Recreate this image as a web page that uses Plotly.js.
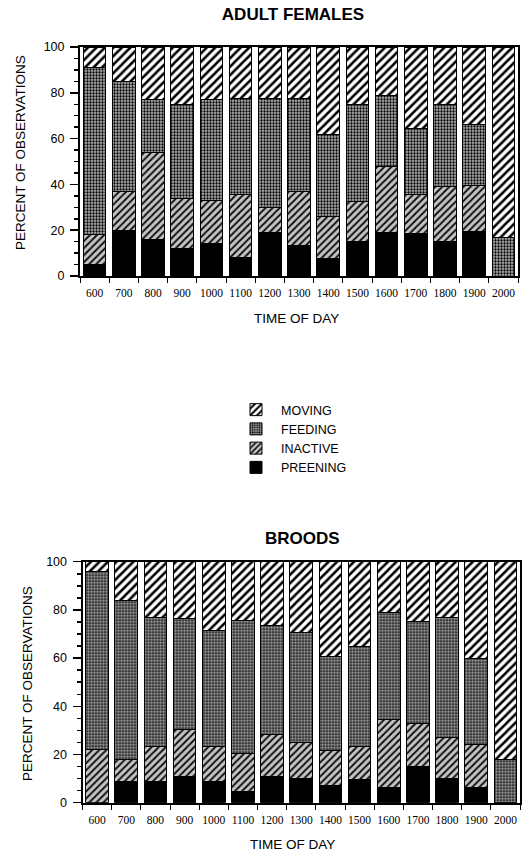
<!DOCTYPE html>
<html>
<head>
<meta charset="utf-8">
<script src="https://cdn.plot.ly/plotly-3.0.1.min.js"></script>
<style>
  html, body { margin: 0; padding: 0; background: #fff; }
  #chart { width: 522px; height: 854px; }
</style>
</head>
<body>
<div id="chart"></div>
<script>
// ---- data ----
const times = ['600','700','800','900','1000','1100','1200','1300','1400','1500','1600','1700','1800','1900','2000'];
const seriesNames = ['PREENING','INACTIVE','FEEDING','MOVING'];

// Adult females (% of observations)
const afPreening = [5, 20, 16, 12, 14, 8, 19, 13.5, 7.5, 15, 19, 18.5, 15, 19.5, 0];
const afInactive = [13, 17, 38, 22, 19, 27.5, 11, 23.5, 18.5, 17.5, 29, 17, 24, 20, 0];
const afFeeding  = [73, 48, 23, 41, 44, 42, 47.5, 40.5, 36, 42.5, 31, 29, 36, 26.5, 17];
const afMoving   = [9, 15, 23, 25, 23, 22.5, 22.5, 22.5, 38, 25, 21, 35.5, 25, 34, 83];

// Broods (% of observations)
const brPreening = [0, 9, 9, 11, 9, 4.5, 11, 10, 7, 9.5, 6.5, 15, 10, 6.5, 0];
const brInactive = [22, 9, 14.5, 19.5, 14.5, 16, 17.5, 15, 14.5, 14, 28, 18, 17, 17.5, 0];
const brFeeding  = [74, 66, 53.5, 46, 48, 55, 45, 45.5, 39, 41.5, 44.5, 42, 50, 36, 18];
const brMoving   = [4, 16, 23, 23.5, 28.5, 24.5, 26.5, 29.5, 39.5, 35, 21, 25, 23, 40, 82];

// ---- styles ----
const W = 522, H = 854;
const styles = {
  PREENING: { color: '#000000' },
  INACTIVE: { color: '#bbbbbb', pattern: { shape: '/', fgcolor: '#111111', bgcolor: '#c4c4c4', size: 5, solidity: 0.4 } },
  FEEDING:  { color: '#777777', pattern: { shape: '.', fgcolor: '#000000', bgcolor: '#b0b0b0', size: 3, solidity: 0.45 } },
  MOVING:   { color: '#ffffff', pattern: { shape: '/', fgcolor: '#000000', bgcolor: '#ffffff', size: 6, solidity: 0.42 } }
};

function mk(name, y, xa, ya, showlegend) {
  const s = styles[name];
  const marker = { color: s.color, line: { color: '#000', width: 1 } };
  if (s.pattern) marker.pattern = Object.assign({ fillmode: 'replace' }, s.pattern);
  return { type: 'bar', name: name, x: times, y: y, xaxis: xa, yaxis: ya,
           marker: marker, showlegend: showlegend, hoverinfo: 'skip' };
}

const data = [
  mk('PREENING', afPreening, 'x', 'y', true),
  mk('INACTIVE', afInactive, 'x', 'y', true),
  mk('FEEDING', afFeeding, 'x', 'y', true),
  mk('MOVING', afMoving, 'x', 'y', true),
  mk('PREENING', brPreening, 'x2', 'y2', false),
  mk('INACTIVE', brInactive, 'x2', 'y2', false),
  mk('FEEDING', brFeeding, 'x2', 'y2', false),
  mk('MOVING', brMoving, 'x2', 'y2', false)
];

const px = v => v / W;
const py = v => 1 - v / H;

const xTickFont = { family: 'Liberation Serif, Times New Roman, serif', size: 11.5, color: '#000' };
const yTickFont = { family: 'Liberation Sans, Arial, sans-serif', size: 12.5, color: '#000' };

function xAxis(domain, anchor) {
  return {
    domain: domain, anchor: anchor, type: 'category',
    showline: true, linecolor: '#000', linewidth: 2, mirror: true,
    ticks: 'outside', tickson: 'boundaries', ticklen: 5, tickwidth: 1, tickcolor: '#000',
    tickfont: xTickFont, tickangle: 0, ticklabelstandoff: 5,
    showgrid: false, zeroline: false, automargin: false, fixedrange: true
  };
}
function yAxis(domain, anchor) {
  return {
    domain: domain, anchor: anchor, range: [0, 100],
    tickvals: [0, 20, 40, 60, 80, 100],
    showline: true, linecolor: '#000', linewidth: 2, mirror: true,
    ticks: 'outside', ticklen: 8, tickwidth: 1.5, tickcolor: '#000',
    minor: { dtick: 5, ticks: 'outside', ticklen: 4, tickwidth: 1.5, tickcolor: '#000', showgrid: false },
    tickfont: yTickFont, ticklabelstandoff: 3,
    showgrid: false, zeroline: false, automargin: false, fixedrange: true
  };
}

const titleFont = { family: 'Liberation Sans, Arial, sans-serif', size: 17, color: '#000', weight: 'bold' };
const axTitleFont = { family: 'Liberation Sans, Arial, sans-serif', size: 13.5, color: '#000' };

const layout = {
  width: W, height: H,
  margin: { l: 0, r: 0, t: 0, b: 0 },
  paper_bgcolor: '#fff', plot_bgcolor: '#fff',
  barmode: 'stack', bargap: 0.22,
  showlegend: true,
  title: { text: 'ADULT FEMALES', font: titleFont, x: px(293), xref: 'paper', y: py(14), yref: 'paper', xanchor: 'center', yanchor: 'middle' },
  xaxis: xAxis([px(80), px(518)], 'y'),
  yaxis: yAxis([py(276), py(47)], 'x'),
  xaxis2: xAxis([px(82.5), px(520)], 'y2'),
  yaxis2: yAxis([py(802.7), py(561.7)], 'x2'),
  legend: {
    x: px(231), y: py(395), xanchor: 'left', yanchor: 'top',
    traceorder: 'reversed', bgcolor: 'rgba(0,0,0,0)', borderwidth: 0,
    font: { family: 'Liberation Sans, Arial, sans-serif', size: 12.5, color: '#000' },
    itemwidth: 40, itemclick: false, itemdoubleclick: false, tracegroupgap: 0
  },
  annotations: [
    { text: 'BROODS', xref: 'paper', yref: 'paper', x: px(302), y: py(538), xanchor: 'center', yanchor: 'middle', showarrow: false, font: titleFont },
    { text: 'TIME OF DAY', xref: 'paper', yref: 'paper', x: px(296), y: py(318), xanchor: 'center', yanchor: 'middle', showarrow: false, font: axTitleFont },
    { text: 'TIME OF DAY', xref: 'paper', yref: 'paper', x: px(292), y: py(844), xanchor: 'center', yanchor: 'middle', showarrow: false, font: axTitleFont },
    { text: 'PERCENT OF OBSERVATIONS', xref: 'paper', yref: 'paper', x: px(21), y: py(153), xanchor: 'center', yanchor: 'middle', textangle: -90, showarrow: false, font: axTitleFont },
    { text: 'PERCENT OF OBSERVATIONS', xref: 'paper', yref: 'paper', x: px(27), y: py(684), xanchor: 'center', yanchor: 'middle', textangle: -90, showarrow: false, font: axTitleFont }
  ]
};

Plotly.newPlot('chart', data, layout, { staticPlot: true, displayModeBar: false });
</script>
</body>
</html>
